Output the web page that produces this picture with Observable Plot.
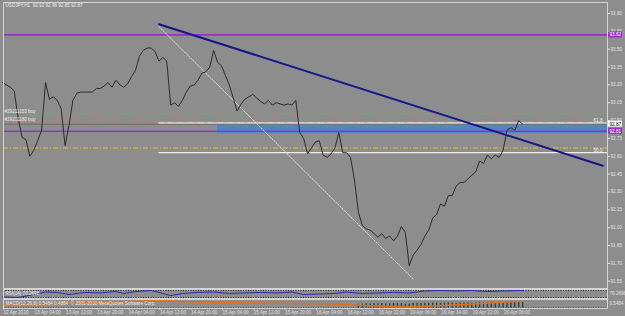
<!DOCTYPE html>
<html><head><meta charset="utf-8">
<script src="https://cdn.jsdelivr.net/npm/d3@7"></script>
<script src="https://cdn.jsdelivr.net/npm/@observablehq/plot@0.6"></script>
<style>
body{margin:0;background:#8d8d8d;}
#chart{position:relative;width:625px;height:316px;background:#8d8d8d;overflow:hidden;}
#chart svg{position:absolute;left:0;}
</style></head><body><div id="chart"></div>
<script>
// ---- data ----
const title = "USDJPY,H1  92.92 92.96 92.85 92.87";
const closes = [93.22,93.20,93.18,93.15,92.92,92.76,92.74,92.60,92.65,92.73,
92.82,93.22,93.08,93.10,93.07,93.00,92.69,92.86,93.07,93.13,
93.14,93.14,93.14,93.14,93.17,93.17,93.19,93.22,93.18,93.24,
93.20,93.18,93.21,93.27,93.32,93.44,93.49,93.51,93.51,93.48,
93.40,93.43,93.40,93.03,93.05,93.02,93.07,93.14,93.19,93.20,
93.24,93.30,93.31,93.35,93.49,93.39,93.36,93.28,93.20,93.09,
92.98,93.04,93.08,93.10,93.12,93.09,93.06,93.04,93.07,93.03,
93.05,93.04,93.03,93.04,93.03,93.07,92.80,92.75,92.62,92.67,
92.72,92.73,92.61,92.59,92.62,92.67,92.80,92.63,92.63,92.59,
92.40,92.13,92.02,91.99,91.98,91.95,91.92,91.95,91.91,91.93,
91.89,91.93,92.01,91.96,91.68,91.77,91.81,91.86,91.93,91.98,
92.08,92.11,92.20,92.18,92.27,92.27,92.35,92.38,92.38,92.41,
92.44,92.47,92.56,92.54,92.61,92.58,92.61,92.59,92.65,92.82,
92.84,92.82,92.90,92.87];
const tickBars = [0,8,16,24,32,40,48,56,64,72,80,88,96,104,112,120,128];
const tickLabels = ["12 Apr 2010","13 Apr 04:00","13 Apr 12:00","13 Apr 20:00","14 Apr 04:00","14 Apr 12:00","14 Apr 20:00","15 Apr 04:00","15 Apr 12:00","15 Apr 20:00","16 Apr 04:00","16 Apr 12:00","16 Apr 22:00","19 Apr 06:00","19 Apr 14:00","19 Apr 22:00","20 Apr 06:00"];
const yTicks = [93.80,93.65,93.50,93.35,93.20,93.05,92.90,92.75,92.60,92.45,92.30,92.15,92.00,91.85,91.70,91.55];
const purpleLevels = [93.62, 92.81];
const orderLevels = [92.96, 92.89];
const orderLabels = ["#29211153 buy", "#29211180 buy"];
const bidPrice = 92.87;
const yellowLevel = 92.67;
const fibBars = [40, 105];
const fibPrices = [93.69, 91.57];
const fibRatios = [61.8, 50.0];
const trendBars = [40, 153.5];
const trendPrices = [93.71, 92.52];
const bandBars = [55, 154.7];
const bandPrices = [92.79, 92.86];
const rsiBars = [0,4,8,11,14,17,21,25,29,31,34,38,41,43,46,50,54,58,62,66,70,74,77,81,85,88,92,96,100,104,108,112,116,120,124,128,133];
const rsiVals = [33,30,47,61,59,47,59,56,64,53,64,70,53,41,53,59,61,53,56,59,56,61,47,50,53,61,53,56,59,56,67,70,67,70,64,67,70];
const rsiLevels = [30, 70];
const rsiLabel = "RSI(14) 70.2698";
const rsiLast = "70.2698";
const macdBars = [0,10,20,30,36,40,45,55,65,75,85,95,103,110,118,125,133];
const macdSignal = [0.28,0.32,0.40,0.48,0.56,0.60,0.52,0.44,0.40,0.36,0.32,0.16,0.08,0.16,0.28,0.40,0.55];
const histStart = 91;
const histVals = [0.30,0.32,0.34,0.33,0.35,0.34,0.36,0.35,0.34,0.36,0.37,0.35,0.30,0.33,0.36,0.38,0.37,0.39,0.38,0.40,0.39,0.38,0.40,0.41,0.40,0.39,0.41,0.40,0.42,0.41,0.40,0.42,0.41,0.43,0.42,0.41,0.43,0.42,0.44,0.45,0.46,0.45,0.47];
const macdLabel = "MACD(12,26,9) 0.5484 0.4864  © 2001-2010 MetaQuotes Software Corp.";
const macdLast = "0.5484";

// ---- derived tables ----
const priceData = closes.map((p, b) => ({b, p}));
const fibDiag = fibBars.map((b, i) => ({b, p: fibPrices[i]}));
const fibLevels = fibRatios.map(r => ({r, p: fibPrices[1] + r / 100 * (fibPrices[0] - fibPrices[1])}));
const trend = trendBars.map((b, i) => ({b, p: trendPrices[i]}));
const rsi = rsiBars.map((b, i) => ({b, v: rsiVals[i]}));
const macd = macdBars.map((b, i) => ({b, v: macdSignal[i]}));
const hist = histVals.map((v, i) => ({b: histStart + i, v}));

const xDom = [0, 154.7], xRng = [2, 607];
const FONT = "Liberation Sans, Arial, sans-serif";
const FS = 4.6;
const common = {width: 625, marginLeft: 3, marginRight: 18,
  style: {background: "transparent", color: "#e2e2e2", fontFamily: FONT, fontSize: FS + "px", overflow: "visible"}};
const xMax = xDom[1];

const main = Plot.plot({
  ...common, height: 289, marginTop: 2, marginBottom: 1,
  x: {domain: xDom, range: xRng, axis: null, label: null},
  y: {domain: [91.489, 93.884], range: [288, 3], axis: null, label: null},
  marks: [
    Plot.rect([bandPrices], {x1: bandBars[0], x2: bandBars[1], y1: d => d[0], y2: d => d[1], fill: "#4f86c6"}),
    Plot.ruleY([bidPrice], {stroke: "#6c6c6c", strokeWidth: 1}),
    Plot.ruleY(fibLevels, {y: "p", x1: fibBars[0], x2: xMax, stroke: "#f0f0f0", strokeWidth: 1.2}),
    Plot.ruleY(orderLevels, {stroke: "#d8727c", strokeDasharray: "5,2,1,2", strokeWidth: 1}),
    Plot.ruleY([yellowLevel], {stroke: "#e8c21c", strokeDasharray: "5,2,1,2", strokeWidth: 1}),
    Plot.ruleY(purpleLevels, {stroke: "#9a30c8", strokeWidth: 1.6}),
    Plot.line(fibDiag, {x: "b", y: "p", stroke: "#e8e8e8", strokeDasharray: "1.5,1.5", strokeWidth: 1}),
    Plot.line(trend, {x: "b", y: "p", stroke: "#16168a", strokeWidth: 2}),
    Plot.line(priceData, {x: "b", y: "p", stroke: "#2c2c2c", strokeWidth: 1}),
    Plot.text(orderLevels, {x: xDom[0], y: d => d, text: (d, i) => orderLabels[i], textAnchor: "start", lineAnchor: "bottom", dx: 2, dy: -0.5, fill: "#eeeeee", fontSize: FS}),
    Plot.text(fibLevels, {x: xMax, y: "p", text: d => d.r.toFixed(1), textAnchor: "end", lineAnchor: "bottom", dx: -5, dy: -0.5, fill: "#f0f0f0", fontSize: FS}),
    Plot.text([title], {frameAnchor: "top-left", dx: 2, dy: 1, lineAnchor: "top", fill: "#f0f0f0", fontSize: FS}),
    Plot.axisY(yTicks, {anchor: "right", label: null, tickFormat: d => d.toFixed(2), tickSize: 2, tickPadding: 1, fontSize: FS, fill: "#e2e2e2", stroke: "#e2e2e2"}),
    Plot.rect(purpleLevels, {x1: xMax, x2: xMax, y1: d => d, y2: d => d, insetLeft: 0, insetRight: -15, insetTop: -3, insetBottom: -3, fill: "#9a30c8"}),
    Plot.text(purpleLevels, {x: xMax, y: d => d, text: d => d.toFixed(2), textAnchor: "start", dx: 2, fill: "#ffffff", fontSize: FS}),
    Plot.rect([bidPrice], {x1: xMax, x2: xMax, y1: d => d, y2: d => d, insetLeft: 0, insetRight: -15, insetTop: -3, insetBottom: -3, fill: "#ffffff"}),
    Plot.text([bidPrice], {x: xMax, y: d => d, text: d => d.toFixed(2), textAnchor: "start", dx: 2, fill: "#000000", fontSize: FS}),
    Plot.frame({stroke: "#d4d4d4"})
  ]
});
main.style.top = "0px";

const sub1 = Plot.plot({
  ...common, height: 10, marginTop: 0, marginBottom: 1,
  x: {domain: xDom, range: xRng, axis: null, label: null},
  y: {domain: [30, 70], range: [8, 1], axis: null, label: null},
  marks: [
    Plot.ruleY(rsiLevels, {stroke: "#202020", strokeDasharray: "1,1.5"}),
    Plot.line(rsi, {x: "b", y: "v", stroke: "#2a2ab4", strokeWidth: 1}),
    Plot.text([rsiLabel], {frameAnchor: "left", dx: 2, fill: "#eeeeee", fontSize: FS}),
    Plot.text([rsiLast], {frameAnchor: "right", dx: 2, textAnchor: "start", fill: "#e2e2e2", fontSize: FS}),
    Plot.frame({stroke: "#d4d4d4"})
  ]
});
sub1.style.top = "289px";

const sub2 = Plot.plot({
  ...common, height: 17, marginTop: 0, marginBottom: 8,
  x: {domain: xDom, range: xRng, axis: null, label: null},
  y: {domain: [0, 0.56], range: [8.5, 1.5], axis: null, label: null},
  marks: [
    Plot.ruleY([0], {stroke: "#202020", strokeDasharray: "1,1.5"}),
    Plot.ruleX(hist, {x: "b", y1: 0, y2: "v", stroke: "#2c4444", strokeWidth: 1.4}),
    Plot.line(macd, {x: "b", y: "v", stroke: "#e2701e", strokeWidth: 1.4}),
    Plot.text([macdLabel], {frameAnchor: "left", dx: 2, fill: "#eeeeee", fontSize: FS}),
    Plot.text([macdLast], {frameAnchor: "right", dx: 2, textAnchor: "start", fill: "#e2e2e2", fontSize: FS}),
    Plot.frame({stroke: "#d4d4d4"}),
    Plot.axisX(tickBars, {anchor: "bottom", label: null, tickFormat: d => tickLabels[tickBars.indexOf(d)], tickSize: 1.5, tickPadding: 0.5, textAnchor: "start", dx: 1, fontSize: FS, fill: "#e2e2e2", stroke: "#e2e2e2"})
  ]
});
sub2.style.top = "299px";

const c = document.getElementById("chart");
c.append(main, sub1, sub2);
</script></body></html>
